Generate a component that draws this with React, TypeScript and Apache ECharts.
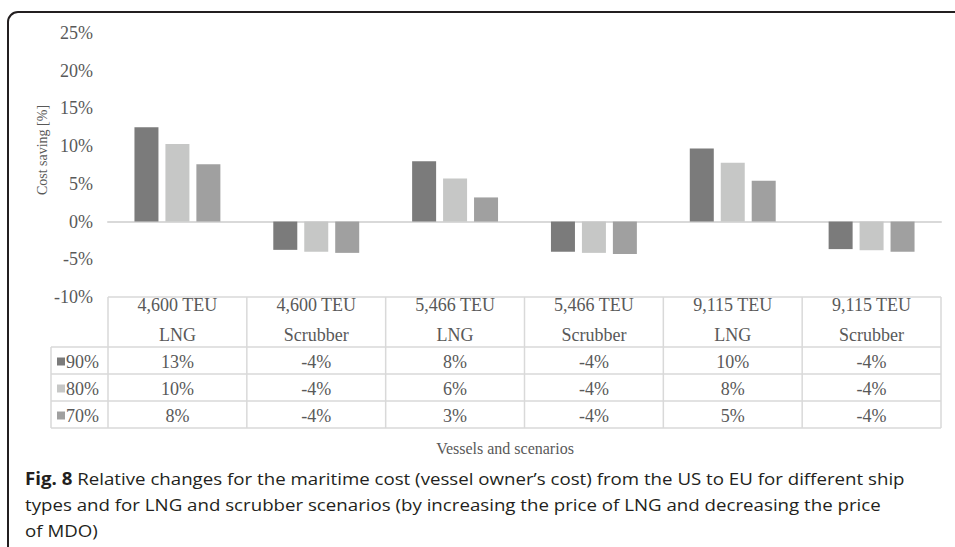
import React, { useEffect, useRef } from "react";
import * as echarts from "echarts";

const vessels = ["4,600 TEU", "4,600 TEU", "5,466 TEU", "5,466 TEU", "9,115 TEU", "9,115 TEU"];
const scenarios = ["LNG", "Scrubber", "LNG", "Scrubber", "LNG", "Scrubber"];
const seriesNames = ["90%", "80%", "70%"];
const values90 = [12.5, -3.75, 8.0, -4.0, 9.7, -3.65];
const values80 = [10.3, -4.0, 5.7, -4.15, 7.8, -3.8];
const values70 = [7.6, -4.15, 3.2, -4.3, 5.4, -4.0];
const table90 = ["13%", "-4%", "8%", "-4%", "10%", "-4%"];
const table80 = ["10%", "-4%", "6%", "-4%", "8%", "-4%"];
const table70 = ["8%", "-4%", "3%", "-4%", "5%", "-4%"];
const yMin = -10;
const yMax = 25;
const yStep = 5;
const yTitle = "Cost saving [%]";
const xTitle = "Vessels and scenarios";
const captionBold = "Fig. 8";
const captionLines = [
  " Relative changes for the maritime cost (vessel owner\u2019s cost) from the US to EU for different ship",
  "types and for LNG and scrubber scenarios (by increasing the price of LNG and decreasing the price",
  "of MDO)",
];

const colors = ["#7b7b7b", "#c6c7c6", "#a0a0a0"];
const textColor = "#595959";
const lineColor = "#d9d9d9";
const serif = "'Liberation Serif', 'Times New Roman', serif";
const sans = "'Open Sans', 'Noto Sans', sans-serif";

export default function App() {
  const ref = useRef<HTMLDivElement>(null);
  useEffect(() => {
    if (!ref.current) return;
    const chart = echarts.init(ref.current, null, { renderer: "svg" });
    const categories = vessels.map((v, i) => v + "\n" + scenarios[i]);
    const seriesValues = [values90, values80, values70];
    const tableRows = [table90, table80, table70];

    chart.setOption({
      animation: false,
      grid: { left: 108, right: 14, top: 33, height: 264 },
      xAxis: {
        type: "category",
        data: categories,
        axisLine: { show: true, onZero: true, lineStyle: { color: lineColor, width: 2 } },
        axisTick: { show: false },
        axisLabel: { show: false },
        splitLine: { show: false },
      },
      yAxis: {
        type: "value",
        min: yMin,
        max: yMax,
        interval: yStep,
        axisLine: { show: false },
        axisTick: { show: false },
        splitLine: { show: false },
        axisLabel: {
          formatter: (v: number) => `${v}%`,
          color: textColor,
          fontFamily: serif,
          fontSize: 18,
          margin: 15,
        },
      },
      series: seriesNames.map((name, k) => ({
        name,
        type: "bar",
        data: seriesValues[k],
        barWidth: 24,
        barGap: "29%",
        itemStyle: { color: colors[k] },
      })),
    });

    const xs = categories.map((_, i) => chart.convertToPixel({ xAxisIndex: 0 }, i) as number);
    const band = xs[1] - xs[0];
    const yTop = chart.convertToPixel({ yAxisIndex: 0 }, yMin) as number;
    const left = xs[0] - band / 2;
    const right = xs[xs.length - 1] + band / 2;
    const headerH = 50;
    const rowH = 27;
    const legendLeft = 51;
    const rowsTop = yTop + headerH;
    const bottom = rowsTop + rowH * 3;

    const g: any[] = [];
    const line = (x1: number, y1: number, x2: number, y2: number) =>
      g.push({
        type: "line",
        shape: { x1, y1, x2, y2 },
        style: { stroke: lineColor, lineWidth: 1.5 },
        silent: true,
      });

    // Table lines
    line(left, yTop, right, yTop);
    for (let r = 0; r <= 3; r++) line(legendLeft, rowsTop + r * rowH, right, rowsTop + r * rowH);
    line(legendLeft, rowsTop, legendLeft, bottom);
    for (let i = 0; i <= xs.length; i++) {
      const x = left + i * band;
      line(x, yTop, x, bottom);
    }

    // Header texts
    xs.forEach((x, i) => {
      g.push({
        type: "text",
        x,
        y: yTop + 8,
        style: { text: vessels[i], fill: textColor, font: `18px ${serif}`, align: "center", verticalAlign: "middle" },
      });
      g.push({
        type: "text",
        x,
        y: yTop + 38,
        style: { text: scenarios[i], fill: textColor, font: `18px ${serif}`, align: "center", verticalAlign: "middle" },
      });
    });

    // Rows
    tableRows.forEach((row, r) => {
      const cy = rowsTop + r * rowH + rowH / 2 + 1;
      g.push({
        type: "rect",
        shape: { x: legendLeft + 6, y: cy - 4, width: 8, height: 8 },
        style: { fill: colors[r] },
      });
      g.push({
        type: "text",
        x: legendLeft + 15,
        y: cy,
        style: { text: seriesNames[r], fill: textColor, font: `18px ${serif}`, align: "left", verticalAlign: "middle" },
      });
      row.forEach((t, i) => {
        g.push({
          type: "text",
          x: xs[i],
          y: cy,
          style: { text: t, fill: textColor, font: `18px ${serif}`, align: "center", verticalAlign: "middle" },
        });
      });
    });

    // Axis titles
    g.push({
      type: "text",
      x: 42,
      y: 150,
      rotation: Math.PI / 2,
      style: { text: yTitle, fill: textColor, font: `14px ${serif}`, align: "center", verticalAlign: "middle" },
    });
    g.push({
      type: "text",
      x: 505,
      y: bottom + 20,
      style: { text: xTitle, fill: textColor, font: `16px ${serif}`, align: "center", verticalAlign: "middle" },
    });

    // Caption
    const ctx = document.createElement("canvas").getContext("2d")!;
    ctx.font = `bold 17px ${sans}`;
    const wb = ctx.measureText(captionBold).width;
    ctx.font = `17px ${sans}`;
    const wr = ctx.measureText(captionLines[0]).width;
    const sx = 880 / (wb + wr);
    const capYs = [478, 504, 530];
    captionLines.forEach((t, i) => {
      g.push({
        type: "text",
        x: 25,
        y: capYs[i],
        scaleX: sx,
        style: {
          text: i === 0 ? `{b|${captionBold}}${t}` : t,
          fill: "#231f20",
          font: `17px ${sans}`,
          align: "left",
          verticalAlign: "middle",
          rich: { b: { fontWeight: "bold", fontSize: 17, fontFamily: sans, fill: "#231f20" } },
        },
      });
    });

    // Frame with rounded top-left corner
    g.push({
      type: "rect",
      shape: { x: 8, y: 12, width: 1200, height: 800, r: [10, 0, 0, 0] },
      style: { fill: "none", stroke: "#231f20", lineWidth: 2 },
      silent: true,
    });

    chart.setOption({ graphic: g });
    return () => chart.dispose();
  }, []);

  return (
    <div
      ref={ref}
      style={{ position: "fixed", left: 0, top: 0, width: 955, height: 547, background: "#fff" }}
    />
  );
}
